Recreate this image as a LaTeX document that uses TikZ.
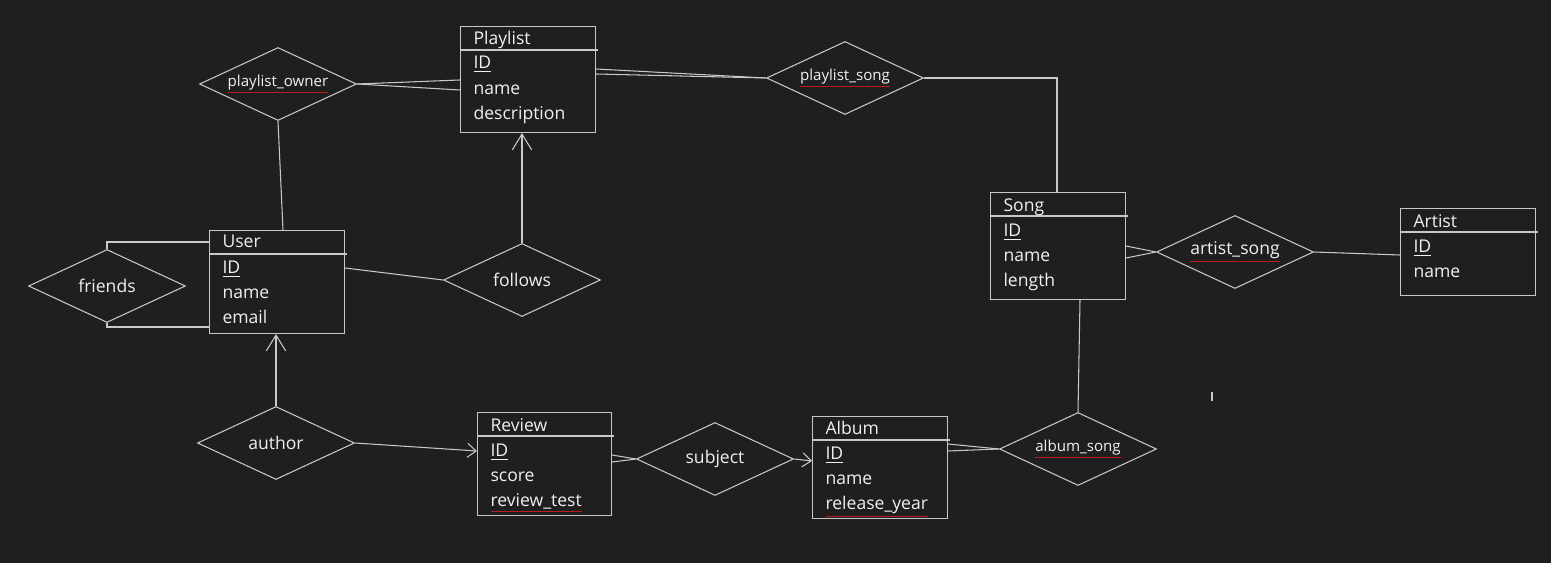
\documentclass[tikz,border=0pt]{standalone}
\usepackage{fontspec}
\setmainfont{Open Sans}
\usepackage{tikz}
\usetikzlibrary{shapes.geometric, arrows.meta}
\definecolor{bg}{RGB}{31,31,31}
\definecolor{ln}{RGB}{200,200,200}
\definecolor{fg}{RGB}{240,240,240}
\definecolor{squig}{RGB}{185,30,30}
\newcommand{\spell}[1]{{\color{squig}\underline{\textcolor{fg}{#1}}}}

\begin{document}
\begin{tikzpicture}[x=0.02cm, y=-0.02cm, color=ln, line width=0.6pt,
	entity/.style={draw, rectangle, anchor=north west, inner sep=0pt, minimum width=2.7cm},
	attr/.style={anchor=west, inner sep=0pt, text=fg, font=\fontsize{10}{12}\selectfont,
		text height=1.6ex, text depth=0.4ex},
	rel/.style={draw, diamond, aspect=2.15, inner sep=0pt, minimum width=3.14cm,
		minimum height=1.46cm, text=fg, font=\fontsize{10}{12}\selectfont},
	relsmall/.style={rel, font=\fontsize{8.6}{10}\selectfont},
	arrow/.style={-{Straight Barb[length=9pt, width=11pt]}},
	arrowsmall/.style={-{Straight Barb[length=5pt, width=8pt]}}]
	\fill[bg] (0,0) rectangle (1551,563);
	% entities
	\node[entity, minimum height=2.12cm] (1) at (460,26) {};
	\draw (460,50) -- (598,50);
	\node[attr] (1t) at (473,39) {Playlist};
	\node[attr] (1a) at (473,63) {\underline{ID}};
	\node[attr] (1b) at (473,89) {name};
	\node[attr] (1c) at (473,114) {description};
	\node[entity, minimum height=2.06cm] (2) at (209,230) {};
	\draw (209,254) -- (347,254);
	\node[attr] (2t) at (222,242) {User};
	\node[attr] (2a) at (222,268) {\underline{ID}};
	\node[attr] (2b) at (222,293) {name};
	\node[attr] (2c) at (222,318) {email};
	\node[entity, minimum height=2.14cm] (3) at (990,192) {};
	\draw (990,216) -- (1128,216);
	\node[attr] (3t) at (1003,206) {Song};
	\node[attr] (3a) at (1003,231) {\underline{ID}};
	\node[attr] (3b) at (1003,256) {name};
	\node[attr] (3c) at (1003,281) {length};
	\node[entity, minimum height=1.74cm] (4) at (1400,208) {};
	\draw (1400,232) -- (1538,232);
	\node[attr] (4t) at (1413,222) {Artist};
	\node[attr] (4a) at (1413,247) {\underline{ID}};
	\node[attr] (4b) at (1413,272) {name};
	\node[entity, minimum width=2.68cm, minimum height=2.06cm] (5) at (477,412) {};
	\draw (477,436) -- (614,436);
	\node[attr] (5t) at (490,426) {Review};
	\node[attr] (5a) at (490,451) {\underline{ID}};
	\node[attr] (5b) at (490,476) {score};
	\node[attr] (5c) at (490,501) {\spell{review\_test}};
	\node[entity, minimum height=2.04cm] (6) at (812,416) {};
	\draw (812,440) -- (950,440);
	\node[attr] (6t) at (825,429) {Album};
	\node[attr] (6a) at (825,454) {\underline{ID}};
	\node[attr] (6b) at (825,479) {name};
	\node[attr] (6c) at (825,504) {\spell{release\_year}};
	% relationships
	\node[relsmall] (7) at (278,84) {\spell{playlist\_owner}};
	\node[relsmall] (8) at (845,78) {\spell{playlist\_song}};
	\node[rel] (9) at (107,286) {friends};
	\node[rel] (10) at (522,280) {follows};
	\node[rel] (11) at (276,443) {author};
	\node[rel] (12) at (715,459) {subject};
	\node[relsmall] (13) at (1078,449) {\spell{album\_song}};
	\node[rel] (14) at (1235,252) {\spell{artist\_song}};
	% connectors
	\draw (7.east) -- (1.west |- 0,80);
	\draw (7.east) -- (1.west |- 0,90);
	\draw (7.south) -- (2.north -| 283,0);
	\draw (1.east |- 0,69) -- (8.west);
	\draw (1.east |- 0,74) -- (8.west);
	\draw (8.east) -| (3.north -| 1057,0);
	\draw (2.west |- 0,242) -| (9.north);
	\draw (2.west |- 0,327) -| (9.south);
	\draw (2.east |- 0,268) -- (10.west);
	\draw[arrow] (10.north) -- (1.south -| 10.north);
	\draw[arrow] (11.north) -- (2.south -| 11.north);
	\draw[arrowsmall] (11.east) -- (5.west |- 0,451);
	\draw (5.east |- 0,455) -- (12.west);
	\draw (5.east |- 0,462) -- (12.west);
	\draw[arrowsmall] (12.east) -- (6.west |- 0,461);
	\draw (6.east |- 0,444) -- (13.west);
	\draw (6.east |- 0,451) -- (13.west);
	\draw (13.north) -- (3.south -| 1080,0);
	\draw (3.east |- 0,246) -- (14.west);
	\draw (3.east |- 0,258) -- (14.west);
	\draw (14.east) -- (4.west |- 0,255);
	\draw (1212,392) -- (1212,401);
\end{tikzpicture}
\end{document}
